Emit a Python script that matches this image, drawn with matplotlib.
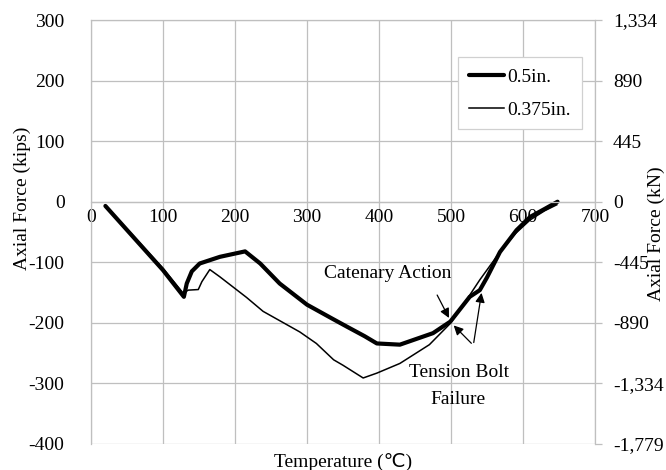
import matplotlib
matplotlib.use("Agg")
import matplotlib.pyplot as plt

# Axial force vs. temperature for two bolt diameters
temp_05 = [20, 60, 100, 129, 133, 140, 151, 179, 214, 235, 262, 300, 335, 355, 380, 397, 429,
           475, 499, 526, 540, 550, 568, 591, 610, 630, 648]
force_05 = [-7, -60, -113, -157, -135, -115, -102, -91, -82, -102, -135, -170, -193, -206, -222,
            -234, -236, -217, -198, -157, -146, -125, -83, -47, -25, -12, 0]

temp_0375 = [20, 60, 100, 128, 135, 149, 154, 165, 179, 216, 239, 290, 313, 337, 350, 378, 397,
             429, 470, 499, 520, 540, 568, 590, 610, 630, 647]
force_0375 = [-7, -58, -110, -151, -146, -145, -132, -112, -124, -158, -181, -215, -234, -261,
              -270, -291, -283, -267, -236, -201, -165, -129, -83, -52, -30, -15, -5]

kips_ticks = [300, 200, 100, 0, -100, -200, -300, -400]
kn_labels = ["1,334", "890", "445", "0", "-445", "-890", "-1,334", "-1,779"]
x_ticks = [0, 100, 200, 300, 400, 500, 600, 700]

KIP_TO_KN = 4.448

plt.rcParams['font.family'] = ['Liberation Serif', 'DejaVu Sans']
plt.rcParams['font.size'] = 14
plt.rcParams['axes.unicode_minus'] = False

fig = plt.figure(figsize=(6.66, 4.70), dpi=100)
ax = fig.add_axes([91 / 666, 1 - 444 / 470, 504 / 666, 424 / 470])

grid_c = "#bfbfbf"
ax.plot(temp_05, force_05, color="black", lw=3.0, label="0.5in.",
        solid_joinstyle="round", solid_capstyle="round")
ax.plot(temp_0375, force_0375, color="black", lw=1.1, label="0.375in.")

ax.set_xlim(0, 700)
ax.set_ylim(-400, 300)
ax.set_xticks(x_ticks)
ax.set_yticks(kips_ticks)
ax.grid(True, color=grid_c, lw=0.9)
ax.set_axisbelow(True)

for s in ax.spines.values():
    s.set_color(grid_c)
    s.set_linewidth(0.9)
ax.spines['bottom'].set_position(('data', 0))
ax.tick_params(axis='x', length=0, pad=5, labelsize=14)
ax.tick_params(axis='y', length=0, pad=19, labelsize=14)

fig.text(22 / 666, 1 - 198 / 470, "Axial Force (kips)", rotation=90,
         ha="center", va="center", fontsize=14)
fig.text(343 / 666, 1 - 462 / 470, "Temperature (℃)", ha="center", va="center", fontsize=14)

# Secondary axis in kN
ax2 = ax.twinx()
ax2.set_ylim(-400 * KIP_TO_KN, 300 * KIP_TO_KN)
ax2.set_yticks([v * KIP_TO_KN for v in kips_ticks], kn_labels)
ax2.tick_params(axis='y', length=5, width=0.9, color=grid_c, pad=8, labelsize=14)
for s in ax2.spines.values():
    s.set_visible(False)
fig.text(656 / 666, 1 - 234 / 470, "Axial Force (kN)", rotation=90,
         ha="center", va="center", fontsize=14)

leg = ax.legend(loc="upper left", bbox_to_anchor=(0.728, 0.912), borderaxespad=0,
                handlelength=1.8, handletextpad=0.2, labelspacing=0.8, fancybox=False,
                edgecolor="#d0d0d0", framealpha=1, fontsize=14, borderpad=0.55)
leg.get_frame().set_linewidth(0.9)

# Annotations
ax.text(412, -119, "Catenary Action", ha="center", va="center", fontsize=14)
ax.annotate("", xy=(499, -196), xytext=(479, -150),
            arrowprops=dict(arrowstyle="-|>", color="black", lw=0.9, mutation_scale=14))
ax.text(511, -282, "Tension Bolt", ha="center", va="center", fontsize=14)
ax.text(510, -326, "Failure", ha="center", va="center", fontsize=14)
ax.annotate("", xy=(501, -201), xytext=(531, -237),
            arrowprops=dict(arrowstyle="-|>", color="black", lw=0.9, mutation_scale=14))
ax.annotate("", xy=(543, -146), xytext=(531, -237),
            arrowprops=dict(arrowstyle="-|>", color="black", lw=0.9, mutation_scale=14))

fig.savefig("out.png", dpi=100)
